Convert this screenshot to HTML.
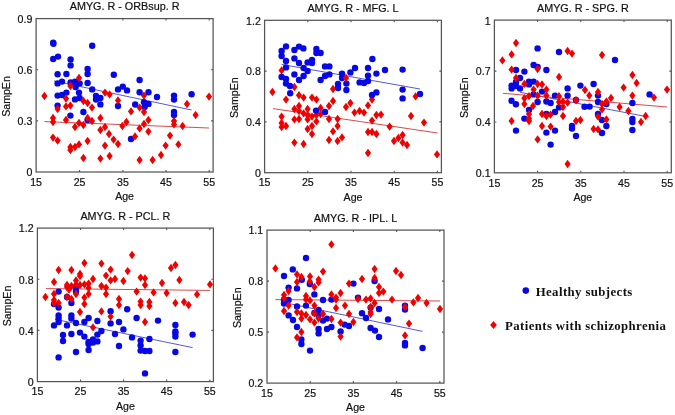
<!DOCTYPE html>
<html><head><meta charset="utf-8"><style>
html,body{margin:0;padding:0;background:#fff;}
svg{display:block;will-change:transform;}
</style></head><body>
<svg width="675" height="415" viewBox="0 0 675 415">
<rect width="675" height="415" fill="#fff"/>
<rect x="36.1" y="18.6" width="177" height="153.4" fill="none" stroke="#555" stroke-width="1.25"/>
<path d="M79.6 172v-2M79.6 18.6v2M122.9 172v-2M122.9 18.6v2M166 172v-2M166 18.6v2M209.2 172v-2M209.2 18.6v2M36.1 120.9h2M213.1 120.9h-2M36.1 69.8h2M213.1 69.8h-2" stroke="#555" stroke-width="1.1" fill="none"/>
<path d="M54 81L191.6 110" stroke="#5050c8" stroke-width="0.95"/>
<path d="M44.4 121.6L209 128" stroke="#d84040" stroke-width="0.95"/>
<g fill="#f00000"><path d="M144 91.4l3.1 4.2l-3.1 4.2l-3.1-4.2z"/></g>
<g fill="#0808e4"><circle cx="53.2" cy="42.6" r="3.2"/><circle cx="53.4" cy="43.8" r="3.2"/><circle cx="92.2" cy="45.8" r="3.2"/><circle cx="53.2" cy="59" r="3.2"/><circle cx="58" cy="56.6" r="3.2"/><circle cx="70.6" cy="59.4" r="3.2"/><circle cx="70.6" cy="65.4" r="3.2"/><circle cx="87.6" cy="69" r="3.2"/><circle cx="87.6" cy="74" r="3.2"/><circle cx="57.6" cy="74.2" r="3.2"/><circle cx="66.4" cy="74" r="3.2"/><circle cx="113.8" cy="74.8" r="3.2"/><circle cx="57.6" cy="83.4" r="3.2"/><circle cx="62" cy="81.6" r="3.2"/><circle cx="70.6" cy="82.4" r="3.2"/><circle cx="75" cy="81.6" r="3.2"/><circle cx="79.6" cy="83.4" r="3.2"/><circle cx="75.6" cy="87" r="3.2"/><circle cx="87.6" cy="83" r="3.2"/><circle cx="92.2" cy="89.4" r="3.2"/><circle cx="118" cy="89.4" r="3.2"/><circle cx="122.8" cy="86.6" r="3.2"/><circle cx="127" cy="90.4" r="3.2"/><circle cx="57.6" cy="95.6" r="3.2"/><circle cx="62" cy="95" r="3.2"/><circle cx="66.4" cy="92.6" r="3.2"/><circle cx="79" cy="92.6" r="3.2"/><circle cx="75" cy="99.4" r="3.2"/><circle cx="79.6" cy="98" r="3.2"/><circle cx="96" cy="96" r="3.2"/><circle cx="96" cy="99.6" r="3.2"/><circle cx="100.4" cy="98" r="3.2"/><circle cx="100.4" cy="104.4" r="3.2"/><circle cx="57.6" cy="105.6" r="3.2"/><circle cx="70.4" cy="115.6" r="3.2"/><circle cx="83.4" cy="112" r="3.2"/><circle cx="118" cy="106" r="3.2"/><circle cx="87.6" cy="120" r="3.2"/><circle cx="139.6" cy="80" r="3.2"/><circle cx="139.6" cy="92.3" r="3.2"/><circle cx="148.5" cy="92.3" r="3.2"/><circle cx="157" cy="97" r="3.2"/><circle cx="174" cy="95.6" r="3.2"/><circle cx="174" cy="99.6" r="3.2"/><circle cx="191.6" cy="94.2" r="3.2"/><circle cx="144" cy="102.2" r="3.2"/><circle cx="148.5" cy="103.9" r="3.2"/><circle cx="135.2" cy="104.5" r="3.2"/><circle cx="144.6" cy="107.1" r="3.2"/><circle cx="174" cy="112" r="3.2"/><circle cx="174" cy="115" r="3.2"/><circle cx="131" cy="139" r="3.2"/></g>
<g fill="#f00000"><path d="M79 73.8l3.1 4.2l-3.1 4.2l-3.1-4.2z"/><path d="M70.4 81.8l3.1 4.2l-3.1 4.2l-3.1-4.2z"/><path d="M44.4 91.8l3.1 4.2l-3.1 4.2l-3.1-4.2z"/><path d="M66 94.4l3.1 4.2l-3.1 4.2l-3.1-4.2z"/><path d="M105 88.4l3.1 4.2l-3.1 4.2l-3.1-4.2z"/><path d="M109.6 90.2l3.1 4.2l-3.1 4.2l-3.1-4.2z"/><path d="M118 96.2l3.1 4.2l-3.1 4.2l-3.1-4.2z"/><path d="M83.4 96.8l3.1 4.2l-3.1 4.2l-3.1-4.2z"/><path d="M87.6 98.8l3.1 4.2l-3.1 4.2l-3.1-4.2z"/><path d="M66 102.2l3.1 4.2l-3.1 4.2l-3.1-4.2z"/><path d="M70.4 101.4l3.1 4.2l-3.1 4.2l-3.1-4.2z"/><path d="M57.6 104.8l3.1 4.2l-3.1 4.2l-3.1-4.2z"/><path d="M92 103.4l3.1 4.2l-3.1 4.2l-3.1-4.2z"/><path d="M53 113.8l3.1 4.2l-3.1 4.2l-3.1-4.2z"/><path d="M53 117.8l3.1 4.2l-3.1 4.2l-3.1-4.2z"/><path d="M66 115.8l3.1 4.2l-3.1 4.2l-3.1-4.2z"/><path d="M79 118.8l3.1 4.2l-3.1 4.2l-3.1-4.2z"/><path d="M83.4 120.8l3.1 4.2l-3.1 4.2l-3.1-4.2z"/><path d="M87.6 113.8l3.1 4.2l-3.1 4.2l-3.1-4.2z"/><path d="M92 116.8l3.1 4.2l-3.1 4.2l-3.1-4.2z"/><path d="M75 122.8l3.1 4.2l-3.1 4.2l-3.1-4.2z"/><path d="M100.4 113.8l3.1 4.2l-3.1 4.2l-3.1-4.2z"/><path d="M105 122.8l3.1 4.2l-3.1 4.2l-3.1-4.2z"/><path d="M100.4 125.8l3.1 4.2l-3.1 4.2l-3.1-4.2z"/><path d="M126.4 117.8l3.1 4.2l-3.1 4.2l-3.1-4.2z"/><path d="M122.4 121.8l3.1 4.2l-3.1 4.2l-3.1-4.2z"/><path d="M53 133.4l3.1 4.2l-3.1 4.2l-3.1-4.2z"/><path d="M57.6 136.4l3.1 4.2l-3.1 4.2l-3.1-4.2z"/><path d="M109 129.8l3.1 4.2l-3.1 4.2l-3.1-4.2z"/><path d="M113.6 135.4l3.1 4.2l-3.1 4.2l-3.1-4.2z"/><path d="M118 139.8l3.1 4.2l-3.1 4.2l-3.1-4.2z"/><path d="M87.6 136.8l3.1 4.2l-3.1 4.2l-3.1-4.2z"/><path d="M70.4 142.8l3.1 4.2l-3.1 4.2l-3.1-4.2z"/><path d="M70.4 145.8l3.1 4.2l-3.1 4.2l-3.1-4.2z"/><path d="M75 142.8l3.1 4.2l-3.1 4.2l-3.1-4.2z"/><path d="M79 140.2l3.1 4.2l-3.1 4.2l-3.1-4.2z"/><path d="M105 141.4l3.1 4.2l-3.1 4.2l-3.1-4.2z"/><path d="M83.4 153.8l3.1 4.2l-3.1 4.2l-3.1-4.2z"/><path d="M100.4 154.4l3.1 4.2l-3.1 4.2l-3.1-4.2z"/><path d="M109.6 151.8l3.1 4.2l-3.1 4.2l-3.1-4.2z"/><path d="M209 92.4l3.1 4.2l-3.1 4.2l-3.1-4.2z"/><path d="M187 99.8l3.1 4.2l-3.1 4.2l-3.1-4.2z"/><path d="M139.6 103.4l3.1 4.2l-3.1 4.2l-3.1-4.2z"/><path d="M131 107.2l3.1 4.2l-3.1 4.2l-3.1-4.2z"/><path d="M144 107.8l3.1 4.2l-3.1 4.2l-3.1-4.2z"/><path d="M195.6 110.8l3.1 4.2l-3.1 4.2l-3.1-4.2z"/><path d="M148.4 115.8l3.1 4.2l-3.1 4.2l-3.1-4.2z"/><path d="M144 119.8l3.1 4.2l-3.1 4.2l-3.1-4.2z"/><path d="M139.6 124.2l3.1 4.2l-3.1 4.2l-3.1-4.2z"/><path d="M148.4 127.4l3.1 4.2l-3.1 4.2l-3.1-4.2z"/><path d="M174 116.8l3.1 4.2l-3.1 4.2l-3.1-4.2z"/><path d="M174 120.2l3.1 4.2l-3.1 4.2l-3.1-4.2z"/><path d="M182.6 121.8l3.1 4.2l-3.1 4.2l-3.1-4.2z"/><path d="M135 132.2l3.1 4.2l-3.1 4.2l-3.1-4.2z"/><path d="M170 131.4l3.1 4.2l-3.1 4.2l-3.1-4.2z"/><path d="M165.6 141.4l3.1 4.2l-3.1 4.2l-3.1-4.2z"/><path d="M178.4 140.2l3.1 4.2l-3.1 4.2l-3.1-4.2z"/><path d="M161 150.8l3.1 4.2l-3.1 4.2l-3.1-4.2z"/><path d="M139.6 155.8l3.1 4.2l-3.1 4.2l-3.1-4.2z"/><path d="M152.6 155.8l3.1 4.2l-3.1 4.2l-3.1-4.2z"/></g>
<g font-family="Liberation Sans, sans-serif" font-size="10.6" fill="#111" stroke="#111" stroke-width="0.2"><text x="36.1" y="185.7" text-anchor="middle">15</text><text x="79.6" y="185.7" text-anchor="middle">25</text><text x="122.9" y="185.7" text-anchor="middle">35</text><text x="166" y="185.7" text-anchor="middle">45</text><text x="209.2" y="185.7" text-anchor="middle">55</text><text x="32.3" y="176.2" text-anchor="end">0</text><text x="32.3" y="125.1" text-anchor="end">0.3</text><text x="32.3" y="74" text-anchor="end">0.6</text><text x="32.3" y="22.8" text-anchor="end">0.9</text><text x="124.6" y="200" text-anchor="middle">Age</text><text x="124.6" y="10.4" text-anchor="middle" font-size="10.8">AMYG. R - ORBsup. R</text><text transform="translate(9.8 96.5) rotate(-90)" text-anchor="middle">SampEn</text></g>
<rect x="264.6" y="20.3" width="176.8" height="152.4" fill="none" stroke="#555" stroke-width="1.25"/>
<path d="M307.8 172.7v-2M307.8 20.3v2M351 172.7v-2M351 20.3v2M394.2 172.7v-2M394.2 20.3v2M437.4 172.7v-2M437.4 20.3v2M264.6 121.9h2M441.4 121.9h-2M264.6 71.1h2M441.4 71.1h-2" stroke="#555" stroke-width="1.1" fill="none"/>
<path d="M281.6 64.4L420 89" stroke="#5050c8" stroke-width="0.95"/>
<path d="M273 108.6L437.6 133" stroke="#d84040" stroke-width="0.95"/>
<g fill="#f00000"><path d="M281.6 66.2l3.1 4.2l-3.1 4.2l-3.1-4.2z"/><path d="M272.4 87.8l3.1 4.2l-3.1 4.2l-3.1-4.2z"/><path d="M286 95.4l3.1 4.2l-3.1 4.2l-3.1-4.2z"/><path d="M294.4 82.8l3.1 4.2l-3.1 4.2l-3.1-4.2z"/><path d="M299 91l3.1 4.2l-3.1 4.2l-3.1-4.2z"/><path d="M303.6 93.4l3.1 4.2l-3.1 4.2l-3.1-4.2z"/><path d="M312 93.4l3.1 4.2l-3.1 4.2l-3.1-4.2z"/><path d="M316.4 95.4l3.1 4.2l-3.1 4.2l-3.1-4.2z"/><path d="M333 84.8l3.1 4.2l-3.1 4.2l-3.1-4.2z"/><path d="M333 96.8l3.1 4.2l-3.1 4.2l-3.1-4.2z"/><path d="M350.4 98.8l3.1 4.2l-3.1 4.2l-3.1-4.2z"/><path d="M372 95.4l3.1 4.2l-3.1 4.2l-3.1-4.2z"/><path d="M415.6 92.2l3.1 4.2l-3.1 4.2l-3.1-4.2z"/><path d="M329 101.8l3.1 4.2l-3.1 4.2l-3.1-4.2z"/><path d="M346 102.8l3.1 4.2l-3.1 4.2l-3.1-4.2z"/><path d="M294.4 104.8l3.1 4.2l-3.1 4.2l-3.1-4.2z"/><path d="M299 101.8l3.1 4.2l-3.1 4.2l-3.1-4.2z"/><path d="M299 106.8l3.1 4.2l-3.1 4.2l-3.1-4.2z"/><path d="M303.6 109.2l3.1 4.2l-3.1 4.2l-3.1-4.2z"/><path d="M307.6 104.8l3.1 4.2l-3.1 4.2l-3.1-4.2z"/><path d="M307.6 110.8l3.1 4.2l-3.1 4.2l-3.1-4.2z"/><path d="M312 112.4l3.1 4.2l-3.1 4.2l-3.1-4.2z"/><path d="M316.4 110.8l3.1 4.2l-3.1 4.2l-3.1-4.2z"/><path d="M320.6 103.8l3.1 4.2l-3.1 4.2l-3.1-4.2z"/><path d="M320.6 109.8l3.1 4.2l-3.1 4.2l-3.1-4.2z"/><path d="M281.6 112.4l3.1 4.2l-3.1 4.2l-3.1-4.2z"/><path d="M281.6 118.8l3.1 4.2l-3.1 4.2l-3.1-4.2z"/><path d="M281.6 122.8l3.1 4.2l-3.1 4.2l-3.1-4.2z"/><path d="M286 121.8l3.1 4.2l-3.1 4.2l-3.1-4.2z"/><path d="M294.4 115.2l3.1 4.2l-3.1 4.2l-3.1-4.2z"/><path d="M299 114.8l3.1 4.2l-3.1 4.2l-3.1-4.2z"/><path d="M307.6 115.2l3.1 4.2l-3.1 4.2l-3.1-4.2z"/><path d="M316.4 117.2l3.1 4.2l-3.1 4.2l-3.1-4.2z"/><path d="M312 121.8l3.1 4.2l-3.1 4.2l-3.1-4.2z"/><path d="M307.6 124.8l3.1 4.2l-3.1 4.2l-3.1-4.2z"/><path d="M312 129.8l3.1 4.2l-3.1 4.2l-3.1-4.2z"/><path d="M329 114.8l3.1 4.2l-3.1 4.2l-3.1-4.2z"/><path d="M337.6 114.8l3.1 4.2l-3.1 4.2l-3.1-4.2z"/><path d="M337.6 121.8l3.1 4.2l-3.1 4.2l-3.1-4.2z"/><path d="M333 127.2l3.1 4.2l-3.1 4.2l-3.1-4.2z"/><path d="M329 135.8l3.1 4.2l-3.1 4.2l-3.1-4.2z"/><path d="M337.6 136.8l3.1 4.2l-3.1 4.2l-3.1-4.2z"/><path d="M342 133.2l3.1 4.2l-3.1 4.2l-3.1-4.2z"/><path d="M294.4 138.4l3.1 4.2l-3.1 4.2l-3.1-4.2z"/><path d="M303.6 139.8l3.1 4.2l-3.1 4.2l-3.1-4.2z"/><path d="M368 101.2l3.1 4.2l-3.1 4.2l-3.1-4.2z"/><path d="M354.5 108.4l3.1 4.2l-3.1 4.2l-3.1-4.2z"/><path d="M359.6 106.8l3.1 4.2l-3.1 4.2l-3.1-4.2z"/><path d="M364 108.4l3.1 4.2l-3.1 4.2l-3.1-4.2z"/><path d="M376.4 110.8l3.1 4.2l-3.1 4.2l-3.1-4.2z"/><path d="M381 110.4l3.1 4.2l-3.1 4.2l-3.1-4.2z"/><path d="M372 116.4l3.1 4.2l-3.1 4.2l-3.1-4.2z"/><path d="M411 111.8l3.1 4.2l-3.1 4.2l-3.1-4.2z"/><path d="M424 118.4l3.1 4.2l-3.1 4.2l-3.1-4.2z"/><path d="M389.6 122.4l3.1 4.2l-3.1 4.2l-3.1-4.2z"/><path d="M368 127.8l3.1 4.2l-3.1 4.2l-3.1-4.2z"/><path d="M372 127.8l3.1 4.2l-3.1 4.2l-3.1-4.2z"/><path d="M376.4 129.8l3.1 4.2l-3.1 4.2l-3.1-4.2z"/><path d="M394 136.8l3.1 4.2l-3.1 4.2l-3.1-4.2z"/><path d="M398.4 133.8l3.1 4.2l-3.1 4.2l-3.1-4.2z"/><path d="M402.6 130.8l3.1 4.2l-3.1 4.2l-3.1-4.2z"/><path d="M402.6 138.4l3.1 4.2l-3.1 4.2l-3.1-4.2z"/><path d="M407 140.8l3.1 4.2l-3.1 4.2l-3.1-4.2z"/><path d="M368 148.8l3.1 4.2l-3.1 4.2l-3.1-4.2z"/><path d="M437 150.2l3.1 4.2l-3.1 4.2l-3.1-4.2z"/></g>
<g fill="#0808e4"><circle cx="286" cy="46.4" r="3.2"/><circle cx="281.6" cy="51" r="3.2"/><circle cx="281.6" cy="56" r="3.2"/><circle cx="294.4" cy="50" r="3.2"/><circle cx="299" cy="46.6" r="3.2"/><circle cx="303.4" cy="48.4" r="3.2"/><circle cx="316.4" cy="49" r="3.2"/><circle cx="316.4" cy="53" r="3.2"/><circle cx="320.6" cy="53" r="3.2"/><circle cx="286" cy="61" r="3.2"/><circle cx="286" cy="67.4" r="3.2"/><circle cx="294.4" cy="58.4" r="3.2"/><circle cx="299" cy="63" r="3.2"/><circle cx="307.6" cy="62.4" r="3.2"/><circle cx="312" cy="60" r="3.2"/><circle cx="312" cy="63" r="3.2"/><circle cx="303.6" cy="68" r="3.2"/><circle cx="307.6" cy="71" r="3.2"/><circle cx="325" cy="66.4" r="3.2"/><circle cx="329.4" cy="66.4" r="3.2"/><circle cx="281.6" cy="77" r="3.2"/><circle cx="286" cy="79" r="3.2"/><circle cx="286" cy="83.6" r="3.2"/><circle cx="290" cy="86" r="3.2"/><circle cx="290.2" cy="93.2" r="3.2"/><circle cx="294.4" cy="74.4" r="3.2"/><circle cx="299" cy="80" r="3.2"/><circle cx="303.6" cy="76" r="3.2"/><circle cx="320.6" cy="80" r="3.2"/><circle cx="325" cy="76" r="3.2"/><circle cx="329.4" cy="74.4" r="3.2"/><circle cx="342" cy="73.6" r="3.2"/><circle cx="342" cy="78" r="3.2"/><circle cx="346.4" cy="83.6" r="3.2"/><circle cx="346.4" cy="90" r="3.2"/><circle cx="338" cy="84" r="3.2"/><circle cx="338" cy="88" r="3.2"/><circle cx="350.4" cy="72.4" r="3.2"/><circle cx="355" cy="68" r="3.2"/><circle cx="372.4" cy="59" r="3.2"/><circle cx="368" cy="68" r="3.2"/><circle cx="368" cy="75.6" r="3.2"/><circle cx="376.4" cy="73.6" r="3.2"/><circle cx="385" cy="70" r="3.2"/><circle cx="402.6" cy="69.6" r="3.2"/><circle cx="359.6" cy="82.4" r="3.2"/><circle cx="364" cy="83" r="3.2"/><circle cx="368" cy="81" r="3.2"/><circle cx="402.6" cy="89.6" r="3.2"/><circle cx="402.6" cy="98.4" r="3.2"/><circle cx="372" cy="95" r="3.2"/><circle cx="376.4" cy="92.4" r="3.2"/><circle cx="420" cy="94" r="3.2"/><circle cx="316" cy="110.6" r="3.2"/><circle cx="325" cy="112" r="3.2"/></g>
<g fill="#f00000"><path d="M346 73.8l3.1 4.2l-3.1 4.2l-3.1-4.2z"/></g>
<g font-family="Liberation Sans, sans-serif" font-size="10.6" fill="#111" stroke="#111" stroke-width="0.2"><text x="264.6" y="186.4" text-anchor="middle">15</text><text x="307.8" y="186.4" text-anchor="middle">25</text><text x="351" y="186.4" text-anchor="middle">35</text><text x="394.2" y="186.4" text-anchor="middle">45</text><text x="437.4" y="186.4" text-anchor="middle">55</text><text x="260.8" y="176.9" text-anchor="end">0</text><text x="260.8" y="126.1" text-anchor="end">0.4</text><text x="260.8" y="75.3" text-anchor="end">0.8</text><text x="260.8" y="24.5" text-anchor="end">1.2</text><text x="353" y="200.7" text-anchor="middle">Age</text><text x="353" y="12.1" text-anchor="middle" font-size="10.8">AMYG. R - MFG. L</text><text transform="translate(238.3 97.7) rotate(-90)" text-anchor="middle">SampEn</text></g>
<rect x="494.4" y="20.1" width="176.9" height="152.7" fill="none" stroke="#555" stroke-width="1.25"/>
<path d="M537.6 172.8v-2M537.6 20.1v2M580.8 172.8v-2M580.8 20.1v2M624 172.8v-2M624 20.1v2M667.2 172.8v-2M667.2 20.1v2M494.4 122h2M671.3 122h-2M494.4 71.1h2M671.3 71.1h-2" stroke="#555" stroke-width="1.1" fill="none"/>
<path d="M520 92.3L649.5 117.2" stroke="#5050c8" stroke-width="0.95"/>
<path d="M502.9 93.3L667 107" stroke="#d84040" stroke-width="0.95"/>
<g fill="#0808e4"><circle cx="537.6" cy="48.4" r="3.2"/><circle cx="559" cy="52" r="3.2"/><circle cx="533.6" cy="65" r="3.2"/><circle cx="537.6" cy="67" r="3.2"/><circle cx="546.4" cy="70" r="3.2"/><circle cx="516" cy="70" r="3.2"/><circle cx="524.4" cy="71.6" r="3.2"/><circle cx="520" cy="78" r="3.2"/><circle cx="511.6" cy="85.6" r="3.2"/><circle cx="511.6" cy="88.4" r="3.2"/><circle cx="516" cy="86" r="3.2"/><circle cx="520" cy="88.4" r="3.2"/><circle cx="516" cy="82" r="3.2"/><circle cx="529" cy="81.6" r="3.2"/><circle cx="533.6" cy="81.6" r="3.2"/><circle cx="529" cy="84.4" r="3.2"/><circle cx="542" cy="91.6" r="3.2"/><circle cx="533.6" cy="94.4" r="3.2"/><circle cx="567.6" cy="88.4" r="3.2"/><circle cx="567.6" cy="95.6" r="3.2"/><circle cx="580.4" cy="85.6" r="3.2"/><circle cx="555" cy="95.6" r="3.2"/><circle cx="511.5" cy="100.8" r="3.2"/><circle cx="537.6" cy="102" r="3.2"/><circle cx="546.4" cy="101.5" r="3.2"/><circle cx="615" cy="60" r="3.2"/><circle cx="593.6" cy="84" r="3.2"/><circle cx="598" cy="95.6" r="3.2"/><circle cx="598" cy="102" r="3.2"/><circle cx="649.6" cy="94.4" r="3.2"/><circle cx="632.4" cy="103" r="3.2"/><circle cx="515.9" cy="104.2" r="3.2"/><circle cx="550.6" cy="103" r="3.2"/><circle cx="529" cy="110" r="3.2"/><circle cx="524.4" cy="118.6" r="3.2"/><circle cx="555" cy="112" r="3.2"/><circle cx="559" cy="107.4" r="3.2"/><circle cx="576" cy="100" r="3.2"/><circle cx="516" cy="130.6" r="3.2"/><circle cx="546.4" cy="132.6" r="3.2"/><circle cx="555" cy="130.6" r="3.2"/><circle cx="572" cy="126" r="3.2"/><circle cx="572" cy="128.6" r="3.2"/><circle cx="576" cy="136" r="3.2"/><circle cx="550.6" cy="144.6" r="3.2"/><circle cx="546.4" cy="114" r="3.2"/><circle cx="584.5" cy="106.8" r="3.2"/><circle cx="589.6" cy="106.6" r="3.2"/><circle cx="606.4" cy="104" r="3.2"/><circle cx="598" cy="114" r="3.2"/><circle cx="602" cy="120" r="3.2"/><circle cx="606.4" cy="126" r="3.2"/><circle cx="602" cy="133" r="3.2"/><circle cx="632.4" cy="119" r="3.2"/><circle cx="632.4" cy="122" r="3.2"/><circle cx="632.4" cy="130" r="3.2"/></g>
<g fill="#f00000"><path d="M516 38.8l3.1 4.2l-3.1 4.2l-3.1-4.2z"/><path d="M511.6 50.2l3.1 4.2l-3.1 4.2l-3.1-4.2z"/><path d="M502.4 56.2l3.1 4.2l-3.1 4.2l-3.1-4.2z"/><path d="M567.6 46.8l3.1 4.2l-3.1 4.2l-3.1-4.2z"/><path d="M572 49.4l3.1 4.2l-3.1 4.2l-3.1-4.2z"/><path d="M511.6 65.4l3.1 4.2l-3.1 4.2l-3.1-4.2z"/><path d="M537.6 64.8l3.1 4.2l-3.1 4.2l-3.1-4.2z"/><path d="M559 72.8l3.1 4.2l-3.1 4.2l-3.1-4.2z"/><path d="M516 73.8l3.1 4.2l-3.1 4.2l-3.1-4.2z"/><path d="M524.4 79.8l3.1 4.2l-3.1 4.2l-3.1-4.2z"/><path d="M537.6 79.8l3.1 4.2l-3.1 4.2l-3.1-4.2z"/><path d="M542 80.2l3.1 4.2l-3.1 4.2l-3.1-4.2z"/><path d="M546.4 85.4l3.1 4.2l-3.1 4.2l-3.1-4.2z"/><path d="M533.6 85.4l3.1 4.2l-3.1 4.2l-3.1-4.2z"/><path d="M537.6 91.6l3.1 4.2l-3.1 4.2l-3.1-4.2z"/><path d="M529 91.9l3.1 4.2l-3.1 4.2l-3.1-4.2z"/><path d="M524.4 94.1l3.1 4.2l-3.1 4.2l-3.1-4.2z"/><path d="M546.4 91.4l3.1 4.2l-3.1 4.2l-3.1-4.2z"/><path d="M559 92.1l3.1 4.2l-3.1 4.2l-3.1-4.2z"/><path d="M563 97.8l3.1 4.2l-3.1 4.2l-3.1-4.2z"/><path d="M576 96.1l3.1 4.2l-3.1 4.2l-3.1-4.2z"/><path d="M602 50.8l3.1 4.2l-3.1 4.2l-3.1-4.2z"/><path d="M632.4 70.8l3.1 4.2l-3.1 4.2l-3.1-4.2z"/><path d="M636.6 78.8l3.1 4.2l-3.1 4.2l-3.1-4.2z"/><path d="M623.6 83.4l3.1 4.2l-3.1 4.2l-3.1-4.2z"/><path d="M632.4 91.4l3.1 4.2l-3.1 4.2l-3.1-4.2z"/><path d="M585 85.8l3.1 4.2l-3.1 4.2l-3.1-4.2z"/><path d="M589.3 91.3l3.1 4.2l-3.1 4.2l-3.1-4.2z"/><path d="M598 87.8l3.1 4.2l-3.1 4.2l-3.1-4.2z"/><path d="M611 93.8l3.1 4.2l-3.1 4.2l-3.1-4.2z"/><path d="M606.4 97.3l3.1 4.2l-3.1 4.2l-3.1-4.2z"/><path d="M654 93.4l3.1 4.2l-3.1 4.2l-3.1-4.2z"/><path d="M667 85.4l3.1 4.2l-3.1 4.2l-3.1-4.2z"/><path d="M524.4 99.8l3.1 4.2l-3.1 4.2l-3.1-4.2z"/><path d="M559 97.8l3.1 4.2l-3.1 4.2l-3.1-4.2z"/><path d="M563 102.8l3.1 4.2l-3.1 4.2l-3.1-4.2z"/><path d="M567.6 98.4l3.1 4.2l-3.1 4.2l-3.1-4.2z"/><path d="M533 101.8l3.1 4.2l-3.1 4.2l-3.1-4.2z"/><path d="M529 109.8l3.1 4.2l-3.1 4.2l-3.1-4.2z"/><path d="M529 114.4l3.1 4.2l-3.1 4.2l-3.1-4.2z"/><path d="M529 116.8l3.1 4.2l-3.1 4.2l-3.1-4.2z"/><path d="M542 109.8l3.1 4.2l-3.1 4.2l-3.1-4.2z"/><path d="M546.4 111.8l3.1 4.2l-3.1 4.2l-3.1-4.2z"/><path d="M550.6 110.4l3.1 4.2l-3.1 4.2l-3.1-4.2z"/><path d="M563 111.8l3.1 4.2l-3.1 4.2l-3.1-4.2z"/><path d="M576 116.8l3.1 4.2l-3.1 4.2l-3.1-4.2z"/><path d="M580.4 115.8l3.1 4.2l-3.1 4.2l-3.1-4.2z"/><path d="M511.6 116.8l3.1 4.2l-3.1 4.2l-3.1-4.2z"/><path d="M542 121.8l3.1 4.2l-3.1 4.2l-3.1-4.2z"/><path d="M550.6 122.4l3.1 4.2l-3.1 4.2l-3.1-4.2z"/><path d="M537.6 135.2l3.1 4.2l-3.1 4.2l-3.1-4.2z"/><path d="M567.6 159.8l3.1 4.2l-3.1 4.2l-3.1-4.2z"/><path d="M602 99.8l3.1 4.2l-3.1 4.2l-3.1-4.2z"/><path d="M602 105.2l3.1 4.2l-3.1 4.2l-3.1-4.2z"/><path d="M619.6 102.8l3.1 4.2l-3.1 4.2l-3.1-4.2z"/><path d="M628.4 106.8l3.1 4.2l-3.1 4.2l-3.1-4.2z"/><path d="M645.6 111.8l3.1 4.2l-3.1 4.2l-3.1-4.2z"/><path d="M641 117.8l3.1 4.2l-3.1 4.2l-3.1-4.2z"/><path d="M598 112.4l3.1 4.2l-3.1 4.2l-3.1-4.2z"/><path d="M606.4 115.2l3.1 4.2l-3.1 4.2l-3.1-4.2z"/><path d="M593.6 124.8l3.1 4.2l-3.1 4.2l-3.1-4.2z"/><path d="M598 125.2l3.1 4.2l-3.1 4.2l-3.1-4.2z"/></g>
<g font-family="Liberation Sans, sans-serif" font-size="10.6" fill="#111" stroke="#111" stroke-width="0.2"><text x="494.4" y="186.5" text-anchor="middle">15</text><text x="537.6" y="186.5" text-anchor="middle">25</text><text x="580.8" y="186.5" text-anchor="middle">35</text><text x="624" y="186.5" text-anchor="middle">45</text><text x="667.2" y="186.5" text-anchor="middle">55</text><text x="490.6" y="177" text-anchor="end">0.1</text><text x="490.6" y="126.2" text-anchor="end">0.4</text><text x="490.6" y="75.3" text-anchor="end">0.7</text><text x="490.6" y="24.5" text-anchor="end">1</text><text x="582.85" y="200.8" text-anchor="middle">Age</text><text x="582.85" y="11.9" text-anchor="middle" font-size="10.8">AMYG. R - SPG. R</text><text transform="translate(468.1 97.65) rotate(-90)" text-anchor="middle">SampEn</text></g>
<rect x="37.4" y="228.1" width="176" height="153.5" fill="none" stroke="#555" stroke-width="1.25"/>
<path d="M80.5 381.6v-2M80.5 228.1v2M123.6 381.6v-2M123.6 228.1v2M166.7 381.6v-2M166.7 228.1v2M209.8 381.6v-2M209.8 228.1v2M37.4 330.4h2M213.4 330.4h-2M37.4 279.3h2M213.4 279.3h-2" stroke="#555" stroke-width="1.1" fill="none"/>
<path d="M55 319.3L192.6 347.6" stroke="#5050c8" stroke-width="0.95"/>
<path d="M46 288.6L210 290.4" stroke="#d84040" stroke-width="0.95"/>
<g fill="#0808e4"><circle cx="58.6" cy="291.6" r="3.2"/><circle cx="76" cy="291.6" r="3.2"/><circle cx="76" cy="288" r="3.2"/><circle cx="67" cy="297" r="3.2"/><circle cx="71.4" cy="303" r="3.2"/><circle cx="54" cy="304" r="3.2"/><circle cx="58.6" cy="307.6" r="3.2"/><circle cx="110.6" cy="311.2" r="3.2"/><circle cx="127.2" cy="309.3" r="3.2"/><circle cx="58.6" cy="315.4" r="3.2"/><circle cx="58.6" cy="318.6" r="3.2"/><circle cx="71.4" cy="315.4" r="3.2"/><circle cx="71.4" cy="318.6" r="3.2"/><circle cx="54" cy="325.4" r="3.2"/><circle cx="58.6" cy="322" r="3.2"/><circle cx="67" cy="325.4" r="3.2"/><circle cx="76" cy="323" r="3.2"/><circle cx="84.4" cy="322" r="3.2"/><circle cx="88.6" cy="318" r="3.2"/><circle cx="97.4" cy="321" r="3.2"/><circle cx="110.6" cy="323.4" r="3.2"/><circle cx="119" cy="322" r="3.2"/><circle cx="123.4" cy="329.4" r="3.2"/><circle cx="63" cy="335" r="3.2"/><circle cx="63" cy="341" r="3.2"/><circle cx="71.4" cy="334" r="3.2"/><circle cx="80" cy="332.6" r="3.2"/><circle cx="84.4" cy="336.6" r="3.2"/><circle cx="88.6" cy="342" r="3.2"/><circle cx="88.6" cy="344" r="3.2"/><circle cx="93" cy="339.4" r="3.2"/><circle cx="93" cy="342.6" r="3.2"/><circle cx="97.4" cy="341.4" r="3.2"/><circle cx="97.4" cy="334.6" r="3.2"/><circle cx="101.4" cy="331" r="3.2"/><circle cx="115" cy="334" r="3.2"/><circle cx="119" cy="346" r="3.2"/><circle cx="76" cy="352" r="3.2"/><circle cx="88.6" cy="350" r="3.2"/><circle cx="58.6" cy="357.4" r="3.2"/><circle cx="136.6" cy="318" r="3.2"/><circle cx="158" cy="320.6" r="3.2"/><circle cx="132" cy="337.4" r="3.2"/><circle cx="140.6" cy="340.6" r="3.2"/><circle cx="140.6" cy="345.4" r="3.2"/><circle cx="140.6" cy="350.6" r="3.2"/><circle cx="145" cy="351" r="3.2"/><circle cx="149.4" cy="351" r="3.2"/><circle cx="149.4" cy="339" r="3.2"/><circle cx="175.4" cy="325" r="3.2"/><circle cx="175.4" cy="331.4" r="3.2"/><circle cx="175.4" cy="333.4" r="3.2"/><circle cx="175.4" cy="336.6" r="3.2"/><circle cx="192.6" cy="334.6" r="3.2"/><circle cx="175.4" cy="352" r="3.2"/><circle cx="145" cy="373.4" r="3.2"/></g>
<g fill="#f00000"><path d="M84.4 258.8l3.1 4.2l-3.1 4.2l-3.1-4.2z"/><path d="M101.4 259.4l3.1 4.2l-3.1 4.2l-3.1-4.2z"/><path d="M58.6 265.8l3.1 4.2l-3.1 4.2l-3.1-4.2z"/><path d="M71.4 265.8l3.1 4.2l-3.1 4.2l-3.1-4.2z"/><path d="M110.6 265.4l3.1 4.2l-3.1 4.2l-3.1-4.2z"/><path d="M80 269.8l3.1 4.2l-3.1 4.2l-3.1-4.2z"/><path d="M80 271.8l3.1 4.2l-3.1 4.2l-3.1-4.2z"/><path d="M106 271.4l3.1 4.2l-3.1 4.2l-3.1-4.2z"/><path d="M54 277.8l3.1 4.2l-3.1 4.2l-3.1-4.2z"/><path d="M76 276.2l3.1 4.2l-3.1 4.2l-3.1-4.2z"/><path d="M93 274.8l3.1 4.2l-3.1 4.2l-3.1-4.2z"/><path d="M110.6 276.2l3.1 4.2l-3.1 4.2l-3.1-4.2z"/><path d="M115 274.8l3.1 4.2l-3.1 4.2l-3.1-4.2z"/><path d="M123.4 276.8l3.1 4.2l-3.1 4.2l-3.1-4.2z"/><path d="M67 280.8l3.1 4.2l-3.1 4.2l-3.1-4.2z"/><path d="M67 282.8l3.1 4.2l-3.1 4.2l-3.1-4.2z"/><path d="M69 285.3l3.1 4.2l-3.1 4.2l-3.1-4.2z"/><path d="M71.4 281.8l3.1 4.2l-3.1 4.2l-3.1-4.2z"/><path d="M76 280.2l3.1 4.2l-3.1 4.2l-3.1-4.2z"/><path d="M80 280.8l3.1 4.2l-3.1 4.2l-3.1-4.2z"/><path d="M84.4 280.2l3.1 4.2l-3.1 4.2l-3.1-4.2z"/><path d="M88.6 279.4l3.1 4.2l-3.1 4.2l-3.1-4.2z"/><path d="M88.6 283.8l3.1 4.2l-3.1 4.2l-3.1-4.2z"/><path d="M101.4 281.8l3.1 4.2l-3.1 4.2l-3.1-4.2z"/><path d="M106 283.4l3.1 4.2l-3.1 4.2l-3.1-4.2z"/><path d="M45.4 292.8l3.1 4.2l-3.1 4.2l-3.1-4.2z"/><path d="M54 289.8l3.1 4.2l-3.1 4.2l-3.1-4.2z"/><path d="M54 295.8l3.1 4.2l-3.1 4.2l-3.1-4.2z"/><path d="M67 292.8l3.1 4.2l-3.1 4.2l-3.1-4.2z"/><path d="M71.4 294.8l3.1 4.2l-3.1 4.2l-3.1-4.2z"/><path d="M76 289.8l3.1 4.2l-3.1 4.2l-3.1-4.2z"/><path d="M84.4 293.4l3.1 4.2l-3.1 4.2l-3.1-4.2z"/><path d="M88.6 289.8l3.1 4.2l-3.1 4.2l-3.1-4.2z"/><path d="M106 289.8l3.1 4.2l-3.1 4.2l-3.1-4.2z"/><path d="M119 294.8l3.1 4.2l-3.1 4.2l-3.1-4.2z"/><path d="M119 300.8l3.1 4.2l-3.1 4.2l-3.1-4.2z"/><path d="M84.4 299.8l3.1 4.2l-3.1 4.2l-3.1-4.2z"/><path d="M54 298.8l3.1 4.2l-3.1 4.2l-3.1-4.2z"/><path d="M58.6 298.8l3.1 4.2l-3.1 4.2l-3.1-4.2z"/><path d="M80 307.8l3.1 4.2l-3.1 4.2l-3.1-4.2z"/><path d="M101.4 307.2l3.1 4.2l-3.1 4.2l-3.1-4.2z"/><path d="M110.6 312.4l3.1 4.2l-3.1 4.2l-3.1-4.2z"/><path d="M93 323.2l3.1 4.2l-3.1 4.2l-3.1-4.2z"/><path d="M132 250.8l3.1 4.2l-3.1 4.2l-3.1-4.2z"/><path d="M127.7 266.9l3.1 4.2l-3.1 4.2l-3.1-4.2z"/><path d="M140.6 273.4l3.1 4.2l-3.1 4.2l-3.1-4.2z"/><path d="M145 274.2l3.1 4.2l-3.1 4.2l-3.1-4.2z"/><path d="M145 280.8l3.1 4.2l-3.1 4.2l-3.1-4.2z"/><path d="M162 278.8l3.1 4.2l-3.1 4.2l-3.1-4.2z"/><path d="M171 263.8l3.1 4.2l-3.1 4.2l-3.1-4.2z"/><path d="M175.4 260.8l3.1 4.2l-3.1 4.2l-3.1-4.2z"/><path d="M179.4 275.8l3.1 4.2l-3.1 4.2l-3.1-4.2z"/><path d="M136.6 287.4l3.1 4.2l-3.1 4.2l-3.1-4.2z"/><path d="M153.6 288.2l3.1 4.2l-3.1 4.2l-3.1-4.2z"/><path d="M166.6 288.8l3.1 4.2l-3.1 4.2l-3.1-4.2z"/><path d="M197 290.2l3.1 4.2l-3.1 4.2l-3.1-4.2z"/><path d="M210 280.2l3.1 4.2l-3.1 4.2l-3.1-4.2z"/><path d="M140.6 297.4l3.1 4.2l-3.1 4.2l-3.1-4.2z"/><path d="M140.6 300.8l3.1 4.2l-3.1 4.2l-3.1-4.2z"/><path d="M149.4 297.8l3.1 4.2l-3.1 4.2l-3.1-4.2z"/><path d="M149.4 301.8l3.1 4.2l-3.1 4.2l-3.1-4.2z"/><path d="M175.4 298.8l3.1 4.2l-3.1 4.2l-3.1-4.2z"/><path d="M184 297.8l3.1 4.2l-3.1 4.2l-3.1-4.2z"/><path d="M188.6 300.8l3.1 4.2l-3.1 4.2l-3.1-4.2z"/><path d="M145 317.8l3.1 4.2l-3.1 4.2l-3.1-4.2z"/></g>
<g font-family="Liberation Sans, sans-serif" font-size="10.6" fill="#111" stroke="#111" stroke-width="0.2"><text x="37.4" y="395.3" text-anchor="middle">15</text><text x="80.5" y="395.3" text-anchor="middle">25</text><text x="123.6" y="395.3" text-anchor="middle">35</text><text x="166.7" y="395.3" text-anchor="middle">45</text><text x="209.8" y="395.3" text-anchor="middle">55</text><text x="33.6" y="385.8" text-anchor="end">0</text><text x="33.6" y="334.6" text-anchor="end">0.4</text><text x="33.6" y="283.5" text-anchor="end">0.8</text><text x="33.6" y="232.3" text-anchor="end">1.2</text><text x="125.4" y="409.6" text-anchor="middle">Age</text><text x="125.4" y="219.9" text-anchor="middle" font-size="10.8">AMYG. R - PCL. R</text><text transform="translate(11.1 306.05) rotate(-90)" text-anchor="middle">SampEn</text></g>
<rect x="267" y="230.1" width="177" height="153" fill="none" stroke="#555" stroke-width="1.25"/>
<path d="M310.2 383.1v-2M310.2 230.1v2M353.4 383.1v-2M353.4 230.1v2M396.6 383.1v-2M396.6 230.1v2M439.8 383.1v-2M439.8 230.1v2M267 332.1h2M444 332.1h-2M267 281.1h2M444 281.1h-2" stroke="#555" stroke-width="1.1" fill="none"/>
<path d="M284 302.5L422.6 331.4" stroke="#5050c8" stroke-width="0.95"/>
<path d="M275.4 299.6L440 301" stroke="#d84040" stroke-width="0.95"/>
<g fill="#0808e4"><circle cx="306" cy="258" r="3.2"/><circle cx="292.8" cy="269.4" r="3.2"/><circle cx="284" cy="276" r="3.2"/><circle cx="301.8" cy="279.8" r="3.2"/><circle cx="309.8" cy="284" r="3.2"/><circle cx="353.4" cy="283.6" r="3.2"/><circle cx="288.6" cy="287.6" r="3.2"/><circle cx="297" cy="288.4" r="3.2"/><circle cx="314.4" cy="294.4" r="3.2"/><circle cx="284" cy="300" r="3.2"/><circle cx="288.6" cy="300" r="3.2"/><circle cx="284" cy="303.6" r="3.2"/><circle cx="323" cy="300" r="3.2"/><circle cx="331.4" cy="299.6" r="3.2"/><circle cx="297" cy="306.4" r="3.2"/><circle cx="306" cy="305.6" r="3.2"/><circle cx="318.6" cy="310" r="3.2"/><circle cx="374.6" cy="281" r="3.2"/><circle cx="358" cy="297.6" r="3.2"/><circle cx="370.6" cy="307.6" r="3.2"/><circle cx="379" cy="309" r="3.2"/><circle cx="405" cy="305.6" r="3.2"/><circle cx="405" cy="309.6" r="3.2"/><circle cx="362" cy="313.2" r="3.2"/><circle cx="288.6" cy="315.4" r="3.2"/><circle cx="293" cy="320" r="3.2"/><circle cx="297" cy="327" r="3.2"/><circle cx="301.4" cy="339.4" r="3.2"/><circle cx="301.4" cy="344" r="3.2"/><circle cx="310" cy="350.6" r="3.2"/><circle cx="318.6" cy="315" r="3.2"/><circle cx="323" cy="320.6" r="3.2"/><circle cx="327" cy="318.6" r="3.2"/><circle cx="318.6" cy="329" r="3.2"/><circle cx="318.6" cy="333.4" r="3.2"/><circle cx="327" cy="329" r="3.2"/><circle cx="331.4" cy="327" r="3.2"/><circle cx="340.6" cy="331.4" r="3.2"/><circle cx="344.6" cy="324.6" r="3.2"/><circle cx="349" cy="326" r="3.2"/><circle cx="314.4" cy="313" r="3.2"/><circle cx="366" cy="318" r="3.2"/><circle cx="388" cy="319.4" r="3.2"/><circle cx="370.6" cy="328" r="3.2"/><circle cx="375" cy="330.6" r="3.2"/><circle cx="379" cy="337" r="3.2"/><circle cx="405" cy="343" r="3.2"/><circle cx="405" cy="345.4" r="3.2"/><circle cx="422.6" cy="348" r="3.2"/></g>
<g fill="#f00000"><path d="M331.4 240.2l3.1 4.2l-3.1 4.2l-3.1-4.2z"/><path d="M275.4 264.2l3.1 4.2l-3.1 4.2l-3.1-4.2z"/><path d="M297 270.2l3.1 4.2l-3.1 4.2l-3.1-4.2z"/><path d="M301.4 272.8l3.1 4.2l-3.1 4.2l-3.1-4.2z"/><path d="M310 272.2l3.1 4.2l-3.1 4.2l-3.1-4.2z"/><path d="M323 267.4l3.1 4.2l-3.1 4.2l-3.1-4.2z"/><path d="M318.6 275.4l3.1 4.2l-3.1 4.2l-3.1-4.2z"/><path d="M318.6 278.2l3.1 4.2l-3.1 4.2l-3.1-4.2z"/><path d="M297 277.8l3.1 4.2l-3.1 4.2l-3.1-4.2z"/><path d="M309.8 277.2l3.1 4.2l-3.1 4.2l-3.1-4.2z"/><path d="M314.4 282.8l3.1 4.2l-3.1 4.2l-3.1-4.2z"/><path d="M349 279.4l3.1 4.2l-3.1 4.2l-3.1-4.2z"/><path d="M288.6 286.8l3.1 4.2l-3.1 4.2l-3.1-4.2z"/><path d="M284 290.8l3.1 4.2l-3.1 4.2l-3.1-4.2z"/><path d="M284 293.8l3.1 4.2l-3.1 4.2l-3.1-4.2z"/><path d="M306 291.8l3.1 4.2l-3.1 4.2l-3.1-4.2z"/><path d="M306 295.4l3.1 4.2l-3.1 4.2l-3.1-4.2z"/><path d="M310 296.2l3.1 4.2l-3.1 4.2l-3.1-4.2z"/><path d="M331.4 290.2l3.1 4.2l-3.1 4.2l-3.1-4.2z"/><path d="M336 293.4l3.1 4.2l-3.1 4.2l-3.1-4.2z"/><path d="M336 295.4l3.1 4.2l-3.1 4.2l-3.1-4.2z"/><path d="M340.6 288.8l3.1 4.2l-3.1 4.2l-3.1-4.2z"/><path d="M288.6 301.4l3.1 4.2l-3.1 4.2l-3.1-4.2z"/><path d="M314.4 301.4l3.1 4.2l-3.1 4.2l-3.1-4.2z"/><path d="M336 303.8l3.1 4.2l-3.1 4.2l-3.1-4.2z"/><path d="M345 301.4l3.1 4.2l-3.1 4.2l-3.1-4.2z"/><path d="M284 306.8l3.1 4.2l-3.1 4.2l-3.1-4.2z"/><path d="M374.6 264.8l3.1 4.2l-3.1 4.2l-3.1-4.2z"/><path d="M396 266.8l3.1 4.2l-3.1 4.2l-3.1-4.2z"/><path d="M401 270.8l3.1 4.2l-3.1 4.2l-3.1-4.2z"/><path d="M362 274.8l3.1 4.2l-3.1 4.2l-3.1-4.2z"/><path d="M374.6 273.8l3.1 4.2l-3.1 4.2l-3.1-4.2z"/><path d="M379 282.8l3.1 4.2l-3.1 4.2l-3.1-4.2z"/><path d="M379 288.8l3.1 4.2l-3.1 4.2l-3.1-4.2z"/><path d="M383.4 287.4l3.1 4.2l-3.1 4.2l-3.1-4.2z"/><path d="M358 294.8l3.1 4.2l-3.1 4.2l-3.1-4.2z"/><path d="M366 295.4l3.1 4.2l-3.1 4.2l-3.1-4.2z"/><path d="M370.6 294.2l3.1 4.2l-3.1 4.2l-3.1-4.2z"/><path d="M374.6 298.8l3.1 4.2l-3.1 4.2l-3.1-4.2z"/><path d="M392 295.4l3.1 4.2l-3.1 4.2l-3.1-4.2z"/><path d="M413.4 298.2l3.1 4.2l-3.1 4.2l-3.1-4.2z"/><path d="M418 293.8l3.1 4.2l-3.1 4.2l-3.1-4.2z"/><path d="M426.6 298.8l3.1 4.2l-3.1 4.2l-3.1-4.2z"/><path d="M370.6 302.8l3.1 4.2l-3.1 4.2l-3.1-4.2z"/><path d="M405 302.8l3.1 4.2l-3.1 4.2l-3.1-4.2z"/><path d="M440 304.8l3.1 4.2l-3.1 4.2l-3.1-4.2z"/><path d="M297 307.8l3.1 4.2l-3.1 4.2l-3.1-4.2z"/><path d="M301.4 309.2l3.1 4.2l-3.1 4.2l-3.1-4.2z"/><path d="M306 310.8l3.1 4.2l-3.1 4.2l-3.1-4.2z"/><path d="M301.4 314.4l3.1 4.2l-3.1 4.2l-3.1-4.2z"/><path d="M310 315.2l3.1 4.2l-3.1 4.2l-3.1-4.2z"/><path d="M314.4 309.2l3.1 4.2l-3.1 4.2l-3.1-4.2z"/><path d="M314.4 318.4l3.1 4.2l-3.1 4.2l-3.1-4.2z"/><path d="M318.6 314.4l3.1 4.2l-3.1 4.2l-3.1-4.2z"/><path d="M323 309.8l3.1 4.2l-3.1 4.2l-3.1-4.2z"/><path d="M331.4 314.8l3.1 4.2l-3.1 4.2l-3.1-4.2z"/><path d="M349 309.8l3.1 4.2l-3.1 4.2l-3.1-4.2z"/><path d="M353.4 317.8l3.1 4.2l-3.1 4.2l-3.1-4.2z"/><path d="M340.6 318.4l3.1 4.2l-3.1 4.2l-3.1-4.2z"/><path d="M340.6 332.4l3.1 4.2l-3.1 4.2l-3.1-4.2z"/><path d="M301.4 327.8l3.1 4.2l-3.1 4.2l-3.1-4.2z"/><path d="M297 333.2l3.1 4.2l-3.1 4.2l-3.1-4.2z"/><path d="M370.6 307.8l3.1 4.2l-3.1 4.2l-3.1-4.2z"/><path d="M370.6 309.8l3.1 4.2l-3.1 4.2l-3.1-4.2z"/><path d="M409 319.4l3.1 4.2l-3.1 4.2l-3.1-4.2z"/><path d="M405 331.2l3.1 4.2l-3.1 4.2l-3.1-4.2z"/></g>
<g font-family="Liberation Sans, sans-serif" font-size="10.6" fill="#111" stroke="#111" stroke-width="0.2"><text x="267" y="396.8" text-anchor="middle">15</text><text x="310.2" y="396.8" text-anchor="middle">25</text><text x="353.4" y="396.8" text-anchor="middle">35</text><text x="396.6" y="396.8" text-anchor="middle">45</text><text x="439.8" y="396.8" text-anchor="middle">55</text><text x="263.2" y="387.3" text-anchor="end">0.2</text><text x="263.2" y="336.3" text-anchor="end">0.5</text><text x="263.2" y="285.3" text-anchor="end">0.8</text><text x="263.2" y="234.3" text-anchor="end">1.1</text><text x="355.5" y="411.1" text-anchor="middle">Age</text><text x="355.5" y="221.9" text-anchor="middle" font-size="10.8">AMYG. R - IPL. L</text><text transform="translate(240.7 307.8) rotate(-90)" text-anchor="middle">SampEn</text></g>
<circle cx="525.8" cy="290.6" r="3.3" fill="#0808e4"/>
<path d="M493.5 321l3.3 4l-3.3 4l-3.3-4z" fill="#f00000"/>
<g font-family="Liberation Serif, serif" font-weight="bold" font-size="12.8" letter-spacing="0.4" fill="#111"><text x="535.7" y="295.8">Healthy subjects</text><text x="505" y="329.8">Patients with schizophrenia</text></g>
</svg>
</body></html>
